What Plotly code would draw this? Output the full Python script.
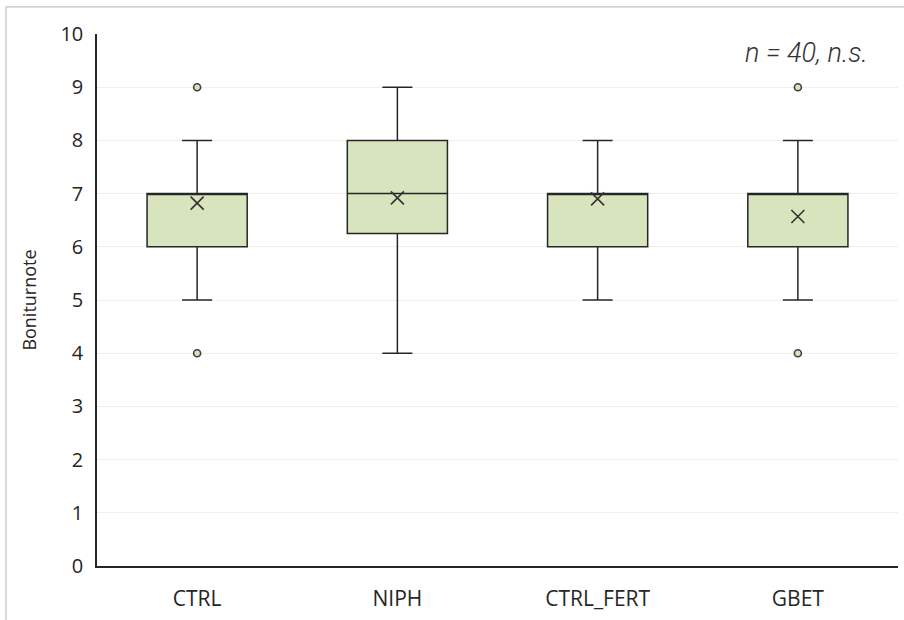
import plotly.graph_objects as go

categories = ["CTRL", "NIPH", "CTRL_FERT", "GBET"]
q1 = [6, 6.25, 6, 6]
median = [7, 7, 7, 7]
q3 = [7, 8, 7, 7]
lower_whisker = [5, 4, 5, 5]
upper_whisker = [8, 9, 8, 8]
means = [6.82, 6.92, 6.9, 6.57]
outlier_cats = ["CTRL", "CTRL", "GBET", "GBET"]
outlier_vals = [9, 4, 9, 4]
y_ticks = list(range(0, 11))
annotation_text = "n = 40, n.s."
y_title = "Boniturnote"

fill = "#d7e4bd"
edge = "#262626"

fig = go.Figure()
fig.add_trace(go.Box(
    x=categories, q1=q1, median=median, q3=q3,
    lowerfence=lower_whisker, upperfence=upper_whisker,
    fillcolor=fill, line=dict(color=edge, width=1.5),
    whiskerwidth=0.3, boxpoints=False, showlegend=False, hoverinfo="skip",
))
fig.add_trace(go.Scatter(
    x=outlier_cats, y=outlier_vals, mode="markers",
    marker=dict(symbol="circle", size=7, color=fill, line=dict(color="#404040", width=1.6)),
    showlegend=False, hoverinfo="skip",
))
fig.add_trace(go.Scatter(
    x=categories, y=means, mode="markers",
    marker=dict(symbol="x-thin-open", size=13, color="#333333", line=dict(color="#333333", width=1.6)),
    showlegend=False, hoverinfo="skip",
))

# outer frame (top and left edge of the original image)
fig.add_shape(type="line", xref="paper", yref="paper", x0=-0.1136, x1=1.01, y0=1.0508, y1=1.0508,
              line=dict(color="#c0c0c0", width=1.2))
fig.add_shape(type="line", xref="paper", yref="paper", x0=-0.1136, x1=-0.1136, y0=1.0508, y1=-0.11,
              line=dict(color="#c0c0c0", width=1.2))

fig.add_annotation(text=annotation_text, xref="paper", yref="paper", x=0.9645, y=0.964,
                   xanchor="right", yanchor="middle", showarrow=False,
                   font=dict(family="Roboto, Open Sans", size=27, color="#333333",
                             style="italic", weight=300))

fig.update_layout(
    width=904, height=620,
    margin=dict(l=97, r=6, t=34, b=54),
    paper_bgcolor="white", plot_bgcolor="white",
    boxgap=0.5, boxgroupgap=0,
    font=dict(family="Open Sans, Noto Sans", color="#262626"),
)
fig.update_xaxes(
    type="category", range=[-0.5, 3.5], showgrid=False,
    showline=True, linecolor="#262626", linewidth=1.5,
    tickfont=dict(size=21, color="#262626"), ticks="", ticklabelstandoff=13,
)
fig.update_yaxes(
    range=[0, 10], tickvals=y_ticks, showgrid=True, gridcolor="#f0f0e6", gridwidth=1,
    showline=True, linecolor="#262626", linewidth=1.5, zeroline=False,
    tickfont=dict(size=20, color="#262626"), ticks="", ticklabelstandoff=8,
    title=dict(text=y_title, font=dict(size=18, color="#262626"), standoff=19),
)
fig.write_html("out.html")
